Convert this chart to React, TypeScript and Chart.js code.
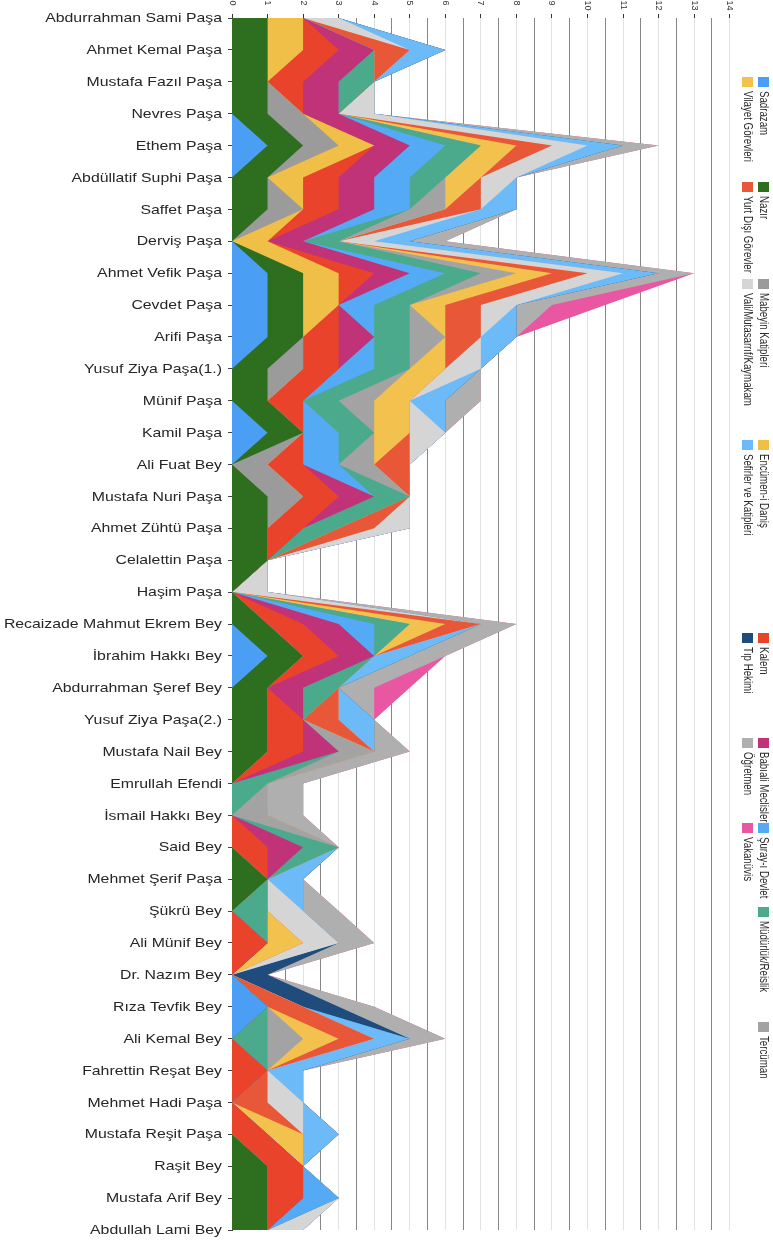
import React, { useEffect, useRef } from 'react';
import { Chart, registerables } from 'chart.js';

Chart.register(...registerables);

// ---------- DATA ----------
const NAMES = [
  'Abdurrahman Sami Paşa', 'Ahmet Kemal Paşa', 'Mustafa Fazıl Paşa', 'Nevres Paşa', 'Ethem Paşa',
  'Abdüllatif Suphi Paşa', 'Saffet Paşa', 'Derviş Paşa', 'Ahmet Vefik Paşa', 'Cevdet Paşa',
  'Arifi Paşa', 'Yusuf Ziya Paşa(1.)', 'Münif Paşa', 'Kamil Paşa', 'Ali Fuat Bey',
  'Mustafa Nuri Paşa', 'Ahmet Zühtü Paşa', 'Celalettin Paşa', 'Haşim Paşa', 'Recaizade Mahmut Ekrem Bey',
  'İbrahim Hakkı Bey', 'Abdurrahman Şeref Bey', 'Yusuf Ziya Paşa(2.)', 'Mustafa Nail Bey', 'Emrullah Efendi',
  'İsmail Hakkı Bey', 'Said Bey', 'Mehmet Şerif Paşa', 'Şükrü Bey', 'Ali Münif Bey',
  'Dr. Nazım Bey', 'Rıza Tevfik Bey', 'Ali Kemal Bey', 'Fahrettin Reşat Bey', 'Mehmet Hadi Paşa',
  'Mustafa Reşit Paşa', 'Raşit Bey', 'Mustafa Arif Bey', 'Abdullah Lami Bey',
];

const SADRAZAM = [0,0,0,0,1, 0,0,0,1,1, 1,0,0,1,0, 0,0,0,0,0, 1,0,0,0,0, 0,0,0,0,0, 0,1,0,0,0, 0,0,0,0];
const NAZIR    = [1,1,1,1,1, 1,1,0,1,1, 1,1,1,1,0, 1,1,1,0,1, 1,1,1,1,0, 0,0,1,0,0, 0,0,0,0,0, 0,1,1,1];
const MABEYIN  = [0,0,0,1,1, 0,1,0,0,0, 0,1,0,0,1, 1,0,0,0,0, 0,0,0,0,0, 0,0,0,0,0, 0,0,0,0,0, 0,0,0,0];
const ENCUMEN  = [1,1,0,0,1, 1,0,1,1,1, 0,0,0,0,0, 0,0,0,0,0, 0,0,0,0,0, 0,0,0,0,0, 0,0,0,0,0, 0,0,0,0];
const KALEM    = [0,1,1,0,0, 1,1,0,1,0, 1,1,1,0,1, 1,1,0,0,1, 1,0,1,1,0, 0,1,0,0,1, 0,0,0,1,0, 1,1,1,0];
const BABIALI  = [0,1,1,1,1, 1,1,1,1,0, 1,0,0,0,0, 1,0,0,0,1, 1,1,0,1,0, 0,1,0,0,0, 0,0,0,0,0, 0,0,0,0];
const SURAY    = [0,0,0,0,1, 1,1,0,1,1, 0,1,0,1,1, 0,0,0,0,1, 0,0,0,0,0, 0,0,0,0,0, 0,0,0,0,0, 0,0,1,0];
const MUDURLUK = [0,0,1,0,1, 1,0,1,1,1, 1,1,1,1,0, 1,1,0,0,1, 0,1,0,0,1, 0,1,0,1,0, 0,0,1,0,0, 0,0,0,0];
const TERCUMAN = [0,0,0,0,0, 0,1,0,1,0, 1,0,1,0,1, 0,0,0,0,0, 0,0,0,1,0, 1,0,0,0,0, 0,0,1,0,0, 0,0,0,0];
const VILAYET  = [0,0,0,0,1, 1,0,0,1,1, 0,1,1,1,0, 0,0,0,0,1, 0,0,0,0,0, 0,0,0,0,1, 0,0,1,0,0, 1,0,0,0];
const YURTDISI = [0,1,0,0,1, 0,1,0,1,1, 1,0,0,0,1, 0,1,0,0,1, 0,0,1,0,0, 0,0,0,0,0, 0,1,1,0,1, 0,0,0,0];
const VALI     = [1,0,0,1,1, 1,0,1,1,1, 0,1,0,1,0, 0,1,0,1,0, 0,0,0,0,0, 0,0,0,1,1, 0,0,0,0,1, 0,0,0,1];
const SEFIRLER = [0,1,0,0,1, 0,1,1,1,0, 1,0,1,0,0, 0,0,0,0,0, 1,0,1,0,0, 0,0,1,0,0, 0,0,1,1,0, 1,0,0,0];
const TIP      = [0,0,0,0,0, 0,0,0,0,0, 0,0,0,0,0, 0,0,0,0,0, 0,0,0,0,0, 0,0,0,0,0, 1,1,0,0,0, 0,0,0,0];
const OGRETMEN = [0,0,0,0,1, 0,0,1,1,1, 0,0,1,0,0, 0,0,0,0,1, 1,1,0,1,1, 1,0,0,1,1, 0,1,1,0,0, 0,0,0,0];
const VAKANUVIS= [0,0,0,0,0, 0,0,0,0,1.5, 0,0,0,0,0, 0,0,0,0,0, 0,1,0,0,0, 0,0,0,0,0, 0,0,0,0,0, 0,0,0,0];

const SERIES_LABELS = [
  'Sadrazam', 'Nazır', 'Mabeyin Katipleri', 'Encümen-i Daniş', 'Kalem', 'Babıali Meclisleri',
  'Şuray-ı Devlet', 'Müdürlük/Reislik', 'Tercüman', 'Vilayet Görevleri', 'Yurt Dışı Görevler',
  'Vali/Mutasarrıf/Kaymakam', 'Sefirler ve Katipleri', 'Tıp Hekimi', 'Öğretmen', 'Vakanüvis',
];
const SERIES_VALUES = [
  SADRAZAM, NAZIR, MABEYIN, ENCUMEN, KALEM, BABIALI, SURAY, MUDURLUK, TERCUMAN,
  VILAYET, YURTDISI, VALI, SEFIRLER, TIP, OGRETMEN, VAKANUVIS,
];
const SERIES_COLORS = [
  '#4a9ff5', '#2e6e1f', '#9b9b9b', '#efbf47', '#e9432b', '#c13378',
  '#55aaf6', '#4ba98c', '#a3a3a3', '#f2c14e', '#e85737',
  '#d5d5d5', '#6cbaf7', '#1f4c7c', '#afafaf', '#e957a2',
];

const TICK_VALUES = [0, 1, 2, 3, 4, 5, 6, 7, 8, 9, 10, 11, 12, 13, 14];

// ---------- LAYOUT / STYLE ----------
const W = 773;
const H = 1240;
const FONT = '"Liberation Sans", Arial, Helvetica, sans-serif';
const NAME_FONT = 13.2;
const NAME_SX = 1.2;
const LEGEND_FONT = 9.7;
const LEGEND_SY = 1.4;
const LEGEND_COL_Y = [77, 182, 279, 440, 633, 738, 823, 907, 1022];
const LEGEND_ROW_X = [758, 742];
const LEGEND_PER_ROW = 9;

const overlayPlugin = {
  id: 'overlay',
  afterDraw(chart: any) {
    const ctx: CanvasRenderingContext2D = chart.ctx;
    const xs = chart.scales.x;
    const ys = chart.scales.y;
    ctx.save();

    // category names (left)
    ctx.fillStyle = '#262626';
    ctx.font = `${NAME_FONT}px ${FONT}`;
    ctx.textAlign = 'right';
    ctx.textBaseline = 'middle';
    const labels = chart.data.labels as string[];
    labels.forEach((n, i) => {
      const y = ys.getPixelForValue(i);
      ctx.save();
      ctx.translate(ys.right - 10, y + 0.5);
      ctx.scale(NAME_SX, 1);
      ctx.fillText(n, 0, 0);
      ctx.restore();
    });

    // value tick labels (top, rotated)
    ctx.fillStyle = '#333';
    ctx.font = `9px ${FONT}`;
    ctx.textAlign = 'left';
    ctx.textBaseline = 'middle';
    TICK_VALUES.forEach((v) => {
      const x = xs.getPixelForValue(v);
      ctx.save();
      ctx.translate(x, 0.5);
      ctx.rotate(Math.PI / 2);
      ctx.fillText(String(v), 0, 0);
      ctx.restore();
    });

    // legend (rotated)
    ctx.font = `${LEGEND_FONT}px ${FONT}`;
    ctx.textAlign = 'left';
    ctx.textBaseline = 'alphabetic';
    chart.data.datasets.forEach((ds: any, i: number) => {
      const row = i < LEGEND_PER_ROW ? 0 : 1;
      const col = row === 0 ? i : i - LEGEND_PER_ROW;
      const y0 = LEGEND_COL_Y[col];
      const x0 = LEGEND_ROW_X[row];
      ctx.fillStyle = ds.backgroundColor;
      ctx.fillRect(x0, y0, 11, 10);
      ctx.fillStyle = '#2a2a2a';
      ctx.save();
      ctx.translate(x0 + 1.5, y0 + 14);
      ctx.rotate(Math.PI / 2);
      ctx.scale(1, LEGEND_SY);
      ctx.fillText(ds.label, 0, 0);
      ctx.restore();
    });

    ctx.restore();
  },
};

export default function App() {
  const ref = useRef<HTMLCanvasElement | null>(null);

  useEffect(() => {
    if (!ref.current) return;
    const datasets = SERIES_LABELS.map((label, i) => ({
      label,
      data: SERIES_VALUES[i],
      backgroundColor: SERIES_COLORS[i],
      borderColor: SERIES_COLORS[i],
      borderWidth: 0,
      pointRadius: 0,
      pointHoverRadius: 0,
      tension: 0,
      fill: 'origin',
    }));

    const chart = new Chart(ref.current, {
      type: 'line',
      data: { labels: NAMES, datasets },
      plugins: [overlayPlugin],
      options: {
        indexAxis: 'y',
        animation: false,
        responsive: false,
        devicePixelRatio: 1,
        events: [],
        layout: { padding: { top: 0, left: 0, right: 43.3, bottom: 10 } },
        plugins: {
          legend: { display: false },
          tooltip: { enabled: false },
          title: { display: false },
        },
        scales: {
          x: {
            type: 'linear',
            position: 'top',
            stacked: true,
            min: 0,
            max: 14,
            ticks: { display: false, stepSize: 0.5 },
            border: { display: false },
            grid: {
              drawTicks: true,
              tickLength: 4,
              lineWidth: 1,
              color: (c: any) => (c.tick && c.tick.value % 1 === 0 ? '#e2e2e2' : '#868686'),
              tickColor: (c: any) => (c.tick && c.tick.value % 1 === 0 ? '#333' : 'rgba(0,0,0,0)'),
            },
            afterFit: (s: any) => { s.height = 18; },
          },
          y: {
            type: 'category',
            position: 'left',
            ticks: { display: false, autoSkip: false },
            border: { display: true, color: '#333', width: 1 },
            grid: { drawOnChartArea: false, drawTicks: true, tickLength: 4, tickColor: '#444' },
            afterFit: (s: any) => { s.width = 232; },
          },
        },
      },
    } as any);
    return () => chart.destroy();
  }, []);

  return (
    <div style={{ position: 'absolute', left: 0, top: 0, width: W, height: H, background: '#fff' }}>
      <canvas ref={ref} width={W} height={H} style={{ display: 'block', width: W, height: H }} />
    </div>
  );
}
